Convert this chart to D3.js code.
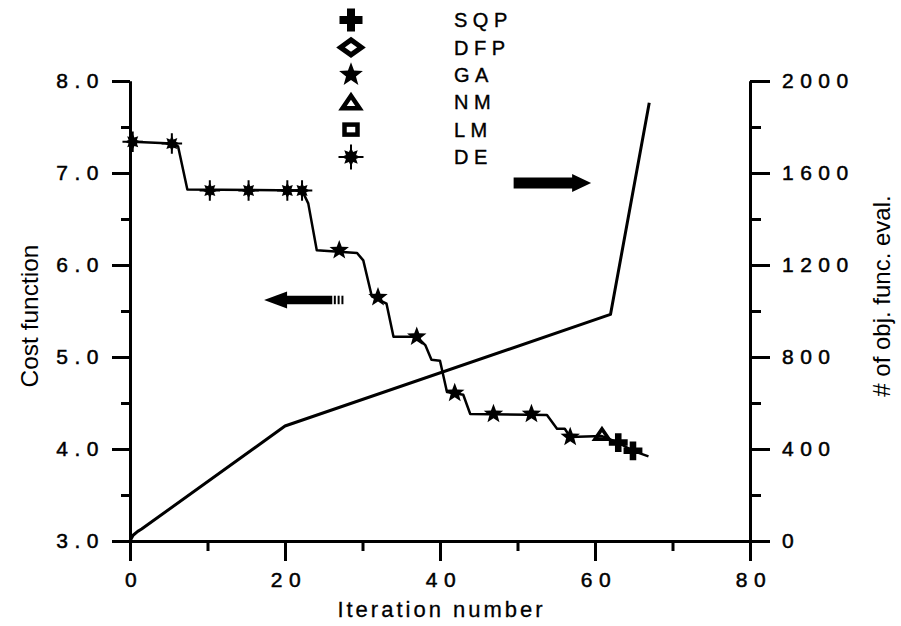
<!DOCTYPE html>
<html>
<head>
<meta charset="utf-8">
<script src="https://cdn.jsdelivr.net/npm/d3@7"></script>
<style>
  body { margin: 0; background: #fff; }
  text { font-family: "Liberation Sans", Arial, sans-serif; fill: #000; }
</style>
</head>
<body>
<div id="chart"></div>
<script>
// axis ticks
const iterTicks = [0, 20, 40, 60, 80];
const iterMinor = [10, 30, 50, 70];
const costTicks = [3, 4, 5, 6, 7, 8];
const costMinor = [3.5, 4.5, 5.5, 6.5, 7.5];
const evalTicks = [0, 400, 800, 1200, 1600, 2000];
const evalMinor = [200, 600, 1000, 1400, 1800];

// cost function history (staircase, left axis)
const costIter = [0.35, 5.4, 6.2, 7.4, 22.2, 23.0, 24.1, 29.3, 30.1, 31.2, 33.1, 34.0, 37.0, 38.1, 38.9, 40.0, 40.9, 43.0, 43.9, 53.8, 55.1, 56.1, 56.8, 60.9, 63.0, 64.9, 66.9];
const costVal  = [7.34, 7.32, 7.29, 6.82, 6.81, 6.67, 6.16, 6.13, 6.05, 5.66, 5.58, 5.22, 5.22, 5.13, 4.97, 4.96, 4.62, 4.59, 4.38, 4.37, 4.22, 4.22, 4.13, 4.14, 4.07, 3.98, 3.92];

// number of objective function evaluations (right axis)
const evalIter  = [0, 0.4, 1.0, 1.5, 20, 62, 67];
const evalCount = [0, 25, 42, 52, 500, 985, 1905];

// optimiser markers sitting on the cost curve
const markIter = [0.35, 5.4, 10.3, 15.3, 20.3, 22.2, 27.0, 32.0, 37.0, 41.9, 46.9, 51.8, 56.8, 60.9, 63.0, 64.9];
const markVal  = [7.34, 7.32, 6.81, 6.81, 6.81, 6.81, 6.16, 5.65, 5.22, 4.61, 4.38, 4.38, 4.13, 4.16, 4.07, 3.98];
const markType = ["DE", "DE", "DE", "DE", "DE", "DE", "GA", "GA", "GA", "GA", "GA", "GA", "GA", "NM", "SQP", "SQP"];

const legendNames = ["SQP", "DFP", "GA", "NM", "LM", "DE"];

// arrows: [iter start, iter tip, cost level]
const arrowRight = [49.5, 59.5, 6.89];
const arrowLeft = [27.5, 17.3, 5.62];

const W = 901, H = 626;
const svg = d3.select("#chart").append("svg")
  .attr("width", W).attr("height", H);
svg.append("rect").attr("width", W).attr("height", H).attr("fill", "#fff");

const x = d3.scaleLinear().domain([0, 80]).range([130, 750]);
const yL = d3.scaleLinear().domain([3, 8]).range([541, 81]);
const yR = d3.scaleLinear().domain([0, 2000]).range([541, 81]);

function styleAxis(g) {
  g.selectAll("path, line").attr("stroke", "#000").attr("stroke-width", 3);
  g.selectAll("text").attr("font-size", 21).attr("letter-spacing", 6.5)
    .attr("font-family", "Liberation Sans, Arial, sans-serif").attr("fill", "#000")
    .attr("stroke", "#000").attr("stroke-width", 0.5);
}

// x axis
const gx = svg.append("g").attr("transform", `translate(0,${yL(3)})`)
  .call(d3.axisBottom(x).tickValues(iterTicks).tickFormat(d3.format("d")).tickSize(20).tickSizeOuter(0).tickPadding(11));
styleAxis(gx);
gx.selectAll("text").attr("dx", 3.5);
svg.append("g").attr("transform", `translate(0,${yL(3)})`)
  .call(d3.axisBottom(x).tickValues(iterMinor).tickFormat("").tickSize(10).tickSizeOuter(0))
  .call(styleAxis);

// left axis
const gl = svg.append("g").attr("transform", `translate(${x(0)},0)`)
  .call(d3.axisLeft(yL).tickValues(costTicks).tickFormat(d3.format(".1f")).tickSize(18).tickSizeOuter(0).tickPadding(7));
styleAxis(gl);
svg.append("g").attr("transform", `translate(${x(0)},0)`)
  .call(d3.axisLeft(yL).tickValues(costMinor).tickFormat("").tickSize(9).tickSizeOuter(0))
  .call(styleAxis);

// right axis
const gr = svg.append("g").attr("transform", `translate(${x(80)},0)`)
  .call(d3.axisRight(yR).tickValues(evalTicks).tickFormat(d3.format("d")).tickSize(20).tickSizeOuter(0).tickPadding(12));
styleAxis(gr);
svg.append("g").attr("transform", `translate(${x(80)},0)`)
  .call(d3.axisRight(yR).tickValues(evalMinor).tickFormat("").tickSize(11).tickSizeOuter(0))
  .call(styleAxis);

// axis titles
svg.append("text")
  .attr("x", x(40)).attr("y", 617)
  .attr("text-anchor", "middle").attr("dx", 1.5)
  .attr("font-size", 22).attr("letter-spacing", 3)
  .attr("stroke", "#000").attr("stroke-width", 0.3)
  .text("Iteration number");

svg.append("text")
  .attr("transform", "translate(38,316) rotate(-90)")
  .attr("text-anchor", "middle")
  .attr("font-size", 24.5)
  .text("Cost function");

svg.append("text")
  .attr("transform", "translate(890,296) rotate(-90)")
  .attr("text-anchor", "middle")
  .attr("font-size", 24)
  .text("# of obj. func. eval.");

// lines
const evalPts = evalIter.map((d, i) => [d, evalCount[i]]);
svg.append("path")
  .datum(evalPts)
  .attr("fill", "none").attr("stroke", "#000").attr("stroke-width", 3)
  .attr("stroke-linejoin", "round")
  .attr("d", d3.line().x(d => x(d[0])).y(d => yR(d[1])));

const costPts = costIter.map((d, i) => [d, costVal[i]]);
svg.append("path")
  .datum(costPts)
  .attr("fill", "none").attr("stroke", "#000").attr("stroke-width", 2.5)
  .attr("stroke-linejoin", "round")
  .attr("d", d3.line().x(d => x(d[0])).y(d => yL(d[1])));

// marker shapes
function starPath(n, ro, ri) {
  const pts = [];
  for (let k = 0; k < 2 * n; k++) {
    const a = -Math.PI / 2 + k * Math.PI / n;
    const r = k % 2 === 0 ? ro : ri;
    pts.push([r * Math.cos(a), r * Math.sin(a)]);
  }
  return "M" + pts.map(p => p.join(",")).join("L") + "Z";
}

function drawMarker(g, type, s) {
  if (type === "SQP") {
    const h = 11.5 * s, t = 4 * s;
    g.append("path").attr("fill", "#000")
      .attr("d", `M${-t},${-h}H${t}V${-t}H${h}V${t}H${t}V${h}H${-t}V${t}H${-h}V${-t}H${-t}Z`);
  } else if (type === "DFP") {
    g.append("path").attr("fill", "none").attr("stroke", "#000").attr("stroke-width", 5 * s)
      .attr("stroke-linejoin", "miter")
      .attr("d", `M0,${-7.5 * s}L${10.5 * s},0L0,${7.5 * s}L${-10.5 * s},0Z`);
  } else if (type === "GA") {
    g.append("path").attr("fill", "#000").attr("d", starPath(5, 12.5 * s, 5.2 * s));
  } else if (type === "NM") {
    g.append("path").attr("fill", "none").attr("stroke", "#000").attr("stroke-width", 4.5 * s)
      .attr("stroke-linejoin", "miter")
      .attr("d", `M0,${-6.5 * s}L${8.5 * s},${6 * s}L${-8.5 * s},${6 * s}Z`);
  } else if (type === "LM") {
    g.append("rect").attr("x", -6.5 * s).attr("y", -5 * s)
      .attr("width", 13 * s).attr("height", 10 * s)
      .attr("fill", "none").attr("stroke", "#000").attr("stroke-width", 4.5 * s);
  } else if (type === "DE") {
    g.append("path").attr("fill", "#000").attr("d", starPath(8, 9.5 * s, 5.5 * s));
    g.append("path").attr("stroke", "#000").attr("stroke-width", 2)
      .attr("d", `M0,${-12.5 * s}V${12.5 * s}M${-12.5 * s},0H${12.5 * s}`);
  }
}

// markers on the curve
markIter.forEach((d, i) => {
  const g = svg.append("g").attr("transform", `translate(${x(d)},${yL(markVal[i])})`);
  drawMarker(g, markType[i], 0.82);
});

// legend
const legend = svg.append("g");
legendNames.forEach((name, i) => {
  const yy = 20 + i * 27.4;
  drawMarker(legend.append("g").attr("transform", `translate(351,${yy})`), name, 1);
  legend.append("text")
    .attr("x", 454).attr("y", yy).attr("dy", "0.36em")
    .attr("font-size", 20).attr("letter-spacing", 5.5)
    .attr("stroke", "#000").attr("stroke-width", 0.4)
    .text(name);
});

// arrows
function arrow(a, shaft, head, headLen) {
  const x0 = x(a[0]), x1 = x(a[1]), yy = yL(a[2]);
  const dir = Math.sign(x1 - x0);
  const xb = x1 - dir * headLen;
  svg.append("path").attr("fill", "#000")
    .attr("d", `M${x0},${yy - shaft / 2}L${xb},${yy - shaft / 2}L${xb},${yy - head / 2}L${x1},${yy}L${xb},${yy + head / 2}L${xb},${yy + shaft / 2}L${x0},${yy + shaft / 2}Z`);
}
arrow(arrowRight, 11, 18, 19);
arrow([arrowLeft[0] - 1.4, arrowLeft[1], arrowLeft[2]], 8.5, 17, 23);
// broken tail of the left arrow
[0, 1, 2].forEach(k => {
  svg.append("rect")
    .attr("x", x(arrowLeft[0] - 1.2) + k * 3.8).attr("y", yL(arrowLeft[2]) - 4.25)
    .attr("width", 2).attr("height", 8.5).attr("fill", "#000");
});
</script>
</body>
</html>
